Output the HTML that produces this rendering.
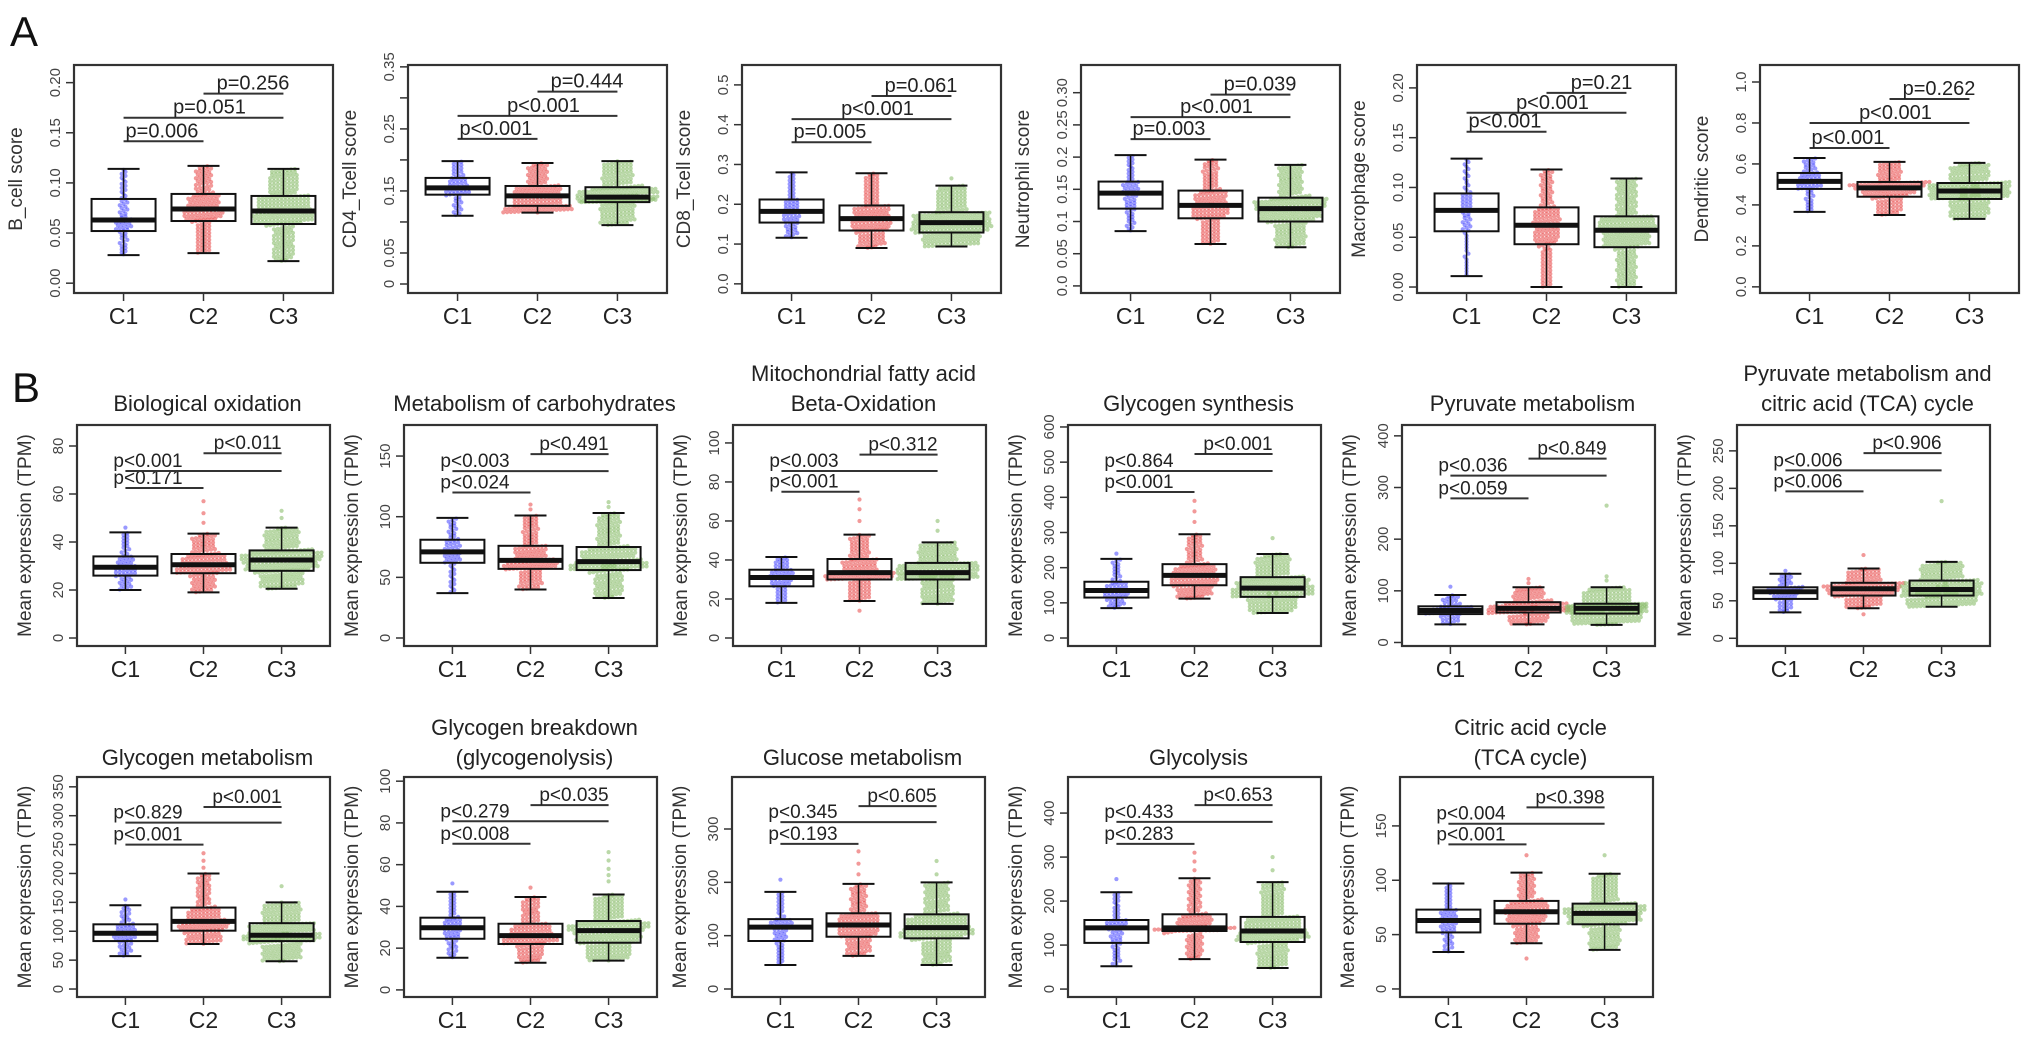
<!DOCTYPE html>
<html><head><meta charset="utf-8">
<style>
html,body{margin:0;padding:0;background:#fff;}
svg{display:block;font-family:"Liberation Sans",Arial,sans-serif;}
</style></head>
<body>
<svg id="fig" width="2032" height="1043" viewBox="0 0 2032 1043" xmlns="http://www.w3.org/2000/svg">
<rect x="0" y="0" width="2032" height="1043" fill="#fff"/>
<text x="10" y="46" font-size="42" fill="#111">A</text>
<text x="12" y="402" font-size="42" fill="#111">B</text>
</svg>
<script>
// ---- data ----
const categories = ['C1','C2','C3'];
const panelNames = ['b-cell','cd4-tcell','cd8-tcell','neutrophil','macrophage','dendritic',
 'biological-oxidation','carbohydrates','beta-oxidation','glycogen-synthesis','pyruvate','pyruvate-tca',
 'glycogen-metabolism','glycogen-breakdown','glucose-metabolism','glycolysis','citric-acid-cycle'];
const panelTitles = [[],[],[],[],[],[],
 ['Biological oxidation'],['Metabolism of carbohydrates'],['Mitochondrial fatty acid','Beta-Oxidation'],
 ['Glycogen synthesis'],['Pyruvate metabolism'],['Pyruvate metabolism and','citric acid (TCA) cycle'],
 ['Glycogen metabolism'],['Glycogen breakdown','(glycogenolysis)'],['Glucose metabolism'],['Glycolysis'],
 ['Citric acid cycle','(TCA cycle)']];
const yTitles = ['B_cell score','CD4_Tcell score','CD8_Tcell score','Neutrophil  score','Macrophage score','Dendritic score',
 'Mean expression (TPM)','Mean expression (TPM)','Mean expression (TPM)','Mean expression (TPM)','Mean expression (TPM)','Mean expression (TPM)',
 'Mean expression (TPM)','Mean expression (TPM)','Mean expression (TPM)','Mean expression (TPM)','Mean expression (TPM)'];
const yLims = [[-0.0098,0.2176],[-0.0145,0.353],[-0.023,0.55],[-0.011,0.343],[-0.006,0.223],[-0.03,1.083],
 [-3.33,88.75],[-6.6,175.6],[-4.1,109.2],[-22.7,605.6],[-6.8,421],[-10.3,284.5],
 [-13.8,367],[-3.4,102],[-15,397.5],[-18,482],[-7.4,195]];
const yTicks = [[0,0.05,0.1,0.15,0.2],[0,0.05,0.1,0.15,0.2,0.25,0.3,0.35],[0,0.1,0.2,0.3,0.4,0.5],
 [0,0.05,0.1,0.15,0.2,0.25,0.3],[0,0.05,0.1,0.15,0.2],[0,0.2,0.4,0.6,0.8,1.0],
 [0,20,40,60,80],[0,50,100,150],[0,20,40,60,80,100],[0,100,200,300,400,500,600],[0,100,200,300,400],[0,50,100,150,200,250],
 [0,50,100,150,200,250,300,350],[0,20,40,60,80,100],[0,100,200,300],[0,100,200,300,400],[0,50,100,150]];
const yTickLabels = [['0.00','0.05','0.10','0.15','0.20'],['0','0.05','','0.15','','0.25','','0.35'],['0.0','0.1','0.2','0.3','0.4','0.5'],
 ['0.0','0.05','0.1','0.15','0.2','0.25','0.30'],['0.00','0.05','0.10','0.15','0.20'],['0.0','0.2','0.4','0.6','0.8','1.0'],
 ['0','20','40','60','80'],['0','50','100','150'],['0','20','40','60','80','100'],['0','100','200','300','400','500','600'],['0','100','200','300','400'],['0','50','100','150','200','250'],
 ['0','50','100','150','200','250','300','350'],['0','20','40','60','80','100'],['0','100','200','300'],['0','100','200','300','400'],['0','50','100','150']];
const boxMin = [[0.028,0.030,0.022],[0.110,0.115,0.095],[0.116,0.090,0.094],[0.085,0.065,0.060],[0.011,0.0,0.0],[0.366,0.351,0.332],
 [20,19,20.5],[37,40,33],[18,19,17.5],[85,112,71],[35,35,34],[34.6,40,42],
 [57,78,48],[15.4,13,14],[45,62,45],[52,68,48],[34,42,36]];
const boxQ1 = [[0.052,0.062,0.059],[0.144,0.126,0.132],[0.154,0.134,0.129],[0.12,0.105,0.10],[0.056,0.043,0.040],[0.478,0.44,0.429],
 [26,27,28],[62,57,56],[26.5,30,30],[115,150,117],[55,58,56],[52.5,57,57],
 [83,101,83],[24.5,22,22.6],[90,98,95],[105,132,107],[52,60,59.5]];
const boxMed = [[0.063,0.074,0.072],[0.155,0.142,0.140],[0.182,0.164,0.154],[0.144,0.125,0.12],[0.077,0.062,0.057],[0.515,0.483,0.468],
 [29.5,30.5,32.5],[71,64,63],[31,33.5,33.5],[135,178,142],[62,66,66],[62,66,65],
 [96.5,117,93],[29.8,26,28.4],[116,120,115],[139,139,132],[63,71,69.5]];
const boxQ3 = [[0.084,0.089,0.087],[0.171,0.158,0.156],[0.212,0.197,0.180],[0.162,0.148,0.137],[0.094,0.080,0.071],[0.556,0.512,0.507],
 [34,35,36.5],[81,76,75],[35,40.5,38.5],[160,210,173],[70,78,75],[68,74,77],
 [112,141,114],[34.6,31.7,33],[131,142,140],[157,170,164],[73,81,78.5]];
const boxMax = [[0.114,0.117,0.114],[0.198,0.195,0.198],[0.280,0.278,0.247],[0.203,0.196,0.188],[0.129,0.118,0.109],[0.629,0.61,0.605],
 [44,43.5,46],[99,101,103],[41.5,53,49],[225,295,239],[92,107,107],[86,93,102],
 [145,200,150],[47,44.5,45.7],[182,197,200],[220,252,243],[97,107,106]];
const outliers = [[[],[],[]],[[],[],[]],[[],[],[0.265]],[[],[],[]],[[],[],[]],[[],[],[]],
 [[46],[48,52,57],[50,53]],[[],[106,110],[108,112]],[[],[14,60,66,71],[55,60]],[[240],[330,360,390],[284]],[[108],[115,123],[120,128,265]],[[90],[32,111],[183]],
 [[155],[210,222,235],[178]],[[51],[49],[52,55,58,62,66]],[[205],[215,235,258],[215,240]],[[250],[270,290,310],[270,300]],[[],[28,123],[123]]];
const groupCounts = [60,150,250];
const pairs = [[0,1],[0,2],[1,2]];
const pLabels = [['p=0.006','p=0.051','p=0.256'],['p<0.001','p<0.001','p=0.444'],['p=0.005','p<0.001','p=0.061'],
 ['p=0.003','p<0.001','p=0.039'],['p<0.001','p<0.001','p=0.21'],['p<0.001','p<0.001','p=0.262'],
 ['p<0.171','p<0.001','p<0.011'],['p<0.024','p<0.003','p<0.491'],['p<0.001','p<0.003','p<0.312'],
 ['p<0.001','p<0.864','p<0.001'],['p<0.059','p<0.036','p<0.849'],['p<0.006','p<0.006','p<0.906'],
 ['p<0.001','p<0.829','p<0.001'],['p<0.008','p<0.279','p<0.035'],['p<0.193','p<0.345','p<0.605'],
 ['p<0.283','p<0.433','p<0.653'],['p<0.001','p<0.004','p<0.398']];
const pHeights = [[0.1415,0.165,0.189],[0.234,0.271,0.310],[0.356,0.414,0.472],[0.228,0.262,0.297],[0.156,0.175,0.195],[0.678,0.8,0.917],
 [62.5,69.6,77],[120,137.6,151.6],[75,85.6,94],[415,475,523],[279,323,356],[196,224,247],
 [250,288,315],[70,80.8,88.5],[272,313,343],[330,380,418],[133,152,167]];

// ---- layout (pixels) ----
const rowA = {lefts:[74,408,742,1081,1417,1760], w:259, top:65, bot:293};
const rowB = {lefts:[77,404,733,1068,1402,1737], w:253, top:425, bot:646};
const rowC = {lefts:[77,404,732,1068,1400], w:253, top:777, bot:997};
const layout = [];
rowA.lefts.forEach(l=>layout.push({l,w:rowA.w,t:rowA.top,b:rowA.bot,row:'A'}));
rowB.lefts.forEach(l=>layout.push({l,w:rowB.w,t:rowB.top,b:rowB.bot,row:'B'}));
rowC.lefts.forEach(l=>layout.push({l,w:rowC.w,t:rowC.top,b:rowC.bot,row:'C'}));

const NS='http://www.w3.org/2000/svg';
const svg=document.getElementById('fig');
function mk(tag,attrs,parent){const e=document.createElementNS(NS,tag);for(const k in attrs)e.setAttribute(k,attrs[k]);(parent||svg).appendChild(e);return e;}
const dotCol=['rgba(70,70,255,0.55)','rgba(232,70,70,0.55)','rgba(140,190,110,0.6)'];

for(let i=0;i<17;i++){
  const L=layout[i];
  const g=mk('g',{});
  
  
  const lo=yLims[i][0], hi=yLims[i][1];
  const ys=v=>L.b-(v-lo)/(hi-lo)*(L.b-L.t);
  const xs=k=>L.l+((k+1)-0.38)/3.24*L.w;
  const isA=L.row==='A';
  const tl=panelTitles[i];
  if(tl.length){
    const base=L.row==='B'?411:765;
    tl.forEach((s,j)=>{
      const t=mk('text',{x:L.l+L.w/2+4,y:base-(tl.length-1-j)*30,'font-size':22,'text-anchor':'middle',fill:'#222'},g);
      t.textContent=s;
      
      
    });
  }
  yTicks[i].forEach((v,j)=>{
    const y=ys(v);
    const tk=mk('line',{x1:L.l-8,x2:L.l,y1:y,y2:y,stroke:'#333','stroke-width':1.5},g);
    
    
    const lab=yTickLabels[i][j];
    if(lab){
      const tx=L.l-14;
      const t=mk('text',{x:tx,y:y,'font-size':15,'text-anchor':'middle',fill:'#444',transform:`rotate(-90 ${tx} ${y})`},g);
      t.textContent=lab;
      
      
    }
  });
  const yx=isA?L.l-52:L.l-46, yc=(L.t+L.b)/2;
  const yt=mk('text',{x:yx,y:yc,'font-size':19,'text-anchor':'middle',fill:'#333',transform:`rotate(-90 ${yx} ${yc})`},g);
  yt.textContent=yTitles[i];
  
  
  categories.forEach((c,k)=>{
    const x=xs(k);
    const tk=mk('line',{x1:x,x2:x,y1:L.b,y2:L.b+8,stroke:'#333','stroke-width':1.5},g);
    
    
    const t=mk('text',{x:x,y:L.b+31,'font-size':23,'text-anchor':'middle',fill:'#222'},g);
    t.textContent=c;
    
    
  });
  categories.forEach((c,k)=>{
    const q=[boxMin[i][k],boxQ1[i][k],boxMed[i][k],boxQ3[i][k],boxMax[i][k]];
    const n=groupCounts[k];
    const vals=[];
    for(let m=0;m<n;m++){
      const p=(m+0.5)/n*4; const s=Math.min(3,Math.floor(p)); const f=p-s;
      vals.push(q[s]+(q[s+1]-q[s])*f);
    }
    const bins={};
    const bh=3.4;
    vals.forEach(v=>{const b=Math.round(ys(v)/bh);(bins[b]=bins[b]||[]).push(v);});
    const cx=xs(k);
    const dg=mk('g',{fill:dotCol[k]},g);
    
    
    const cap=40;
    Object.keys(bins).forEach(b=>{
      const arr=bins[b]; const cnt=arr.length;
      arr.forEach((v,j)=>{
        let off=(j-(cnt-1)/2)*3.8;
        if(Math.abs(off)>cap) off=Math.sign(off)*(Math.abs(off)%cap);
        const d=mk('circle',{cx:cx+off,cy:ys(v),r:2.1},dg);
        
        
      });
    });
    outliers[i][k].forEach(v=>{
      const d=mk('circle',{cx:cx,cy:ys(v),r:2.1},dg);
      
      
    });
  });
  categories.forEach((c,k)=>{
    const cx=xs(k), hw=32, cw=16;
    const bg=mk('g',{stroke:'#111',fill:'none'},g);
    
    
    const yq1=ys(boxQ1[i][k]), yq3=ys(boxQ3[i][k]);
    mk('line',{x1:cx,x2:cx,y1:ys(boxMax[i][k]),y2:yq3,'stroke-width':1.5},bg);
    mk('line',{x1:cx,x2:cx,y1:yq1,y2:ys(boxMin[i][k]),'stroke-width':1.5},bg);
    mk('line',{x1:cx-cw,x2:cx+cw,y1:ys(boxMax[i][k]),y2:ys(boxMax[i][k]),'stroke-width':2},bg);
    mk('line',{x1:cx-cw,x2:cx+cw,y1:ys(boxMin[i][k]),y2:ys(boxMin[i][k]),'stroke-width':2},bg);
    mk('rect',{x:cx-hw,y:yq3,width:2*hw,height:Math.max(1,yq1-yq3),'stroke-width':2},bg);
    mk('line',{x1:cx-hw,x2:cx+hw,y1:ys(boxMed[i][k]),y2:ys(boxMed[i][k]),'stroke-width':5},bg);
  });
  pairs.forEach((pr,j)=>{
    const y=ys(pHeights[i][j]);
    const x1=xs(pr[0]), x2=xs(pr[1]);
    const ln=mk('line',{x1:x1,x2:x2,y1:y,y2:y,stroke:'#333','stroke-width':2},g);
    
    
    let tx,anchor;
    if(j===2){tx=x2+(isA?6:0);anchor='end';}
    else if(j===1&&isA){tx=(x1+x2)/2+6;anchor='middle';}
    else {tx=isA?x1+2:x1-12;anchor='start';}
    const t=mk('text',{x:tx,y:y-4,'font-size':isA?20:19,'text-anchor':anchor,fill:'#222'},g);
    t.textContent=pLabels[i][j];
    
    
  });
  const fr=mk('rect',{x:L.l,y:L.t,width:L.w,height:L.b-L.t,fill:'none',stroke:'#333','stroke-width':2.2},g);
  
  
}
</script>
</body></html>
